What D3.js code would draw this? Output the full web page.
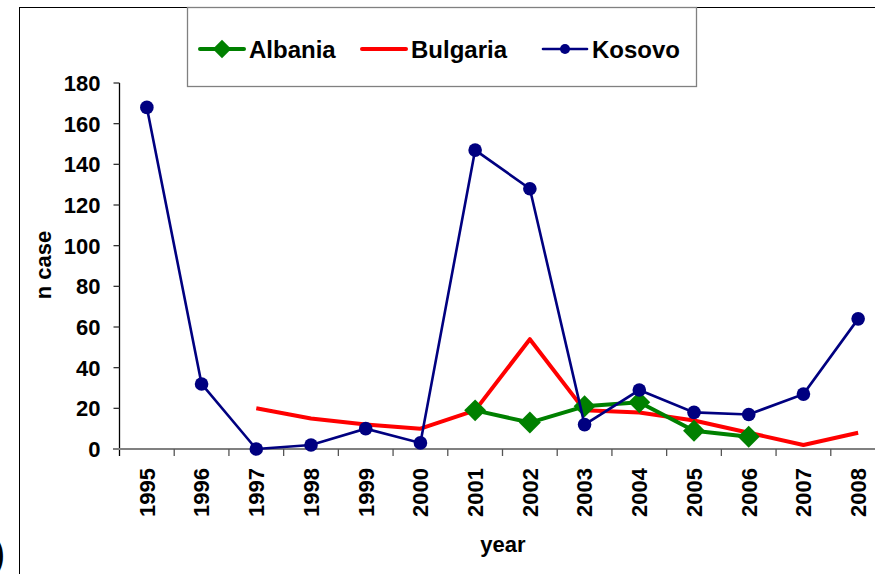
<!DOCTYPE html>
<html>
<head>
<meta charset="utf-8">
<script src="https://cdn.jsdelivr.net/npm/d3@7"></script>
<style>
  body { margin: 0; background: #fff; }
  svg { display: block; font-family: "Liberation Sans", Arial, sans-serif; font-weight: bold; }
</style>
</head>
<body>
<div id="chart"></div>
<script>
// data
var years = ["1995","1996","1997","1998","1999","2000","2001","2002","2003","2004","2005","2006","2007","2008"];
var albania  = [null, null, null, null, null, null, 19, 13, 21, 23, 9, 6, null, null];
var bulgaria = [null, null, 20, 15, 12, 10, 19, 54, 19, 18, 14, 8, 2, 8];
var kosovo   = [168, 32, 0, 2, 10, 3, 147, 128, 12, 29, 18, 17, 27, 64];
var yTicks = [0, 20, 40, 60, 80, 100, 120, 140, 160, 180];

var W = 875, H = 574;
var svg = d3.select("#chart").append("svg").attr("width", W).attr("height", H);

// outer frame (runs off the right / bottom of the crop)
svg.append("rect")
  .attr("x", 19.5).attr("y", 7.5).attr("width", 900).attr("height", 600)
  .attr("fill", "none").attr("stroke", "#000").attr("stroke-width", 1);

// bit of a panel label cut off at the left
svg.append("text")
  .attr("x", -9).attr("y", 568)
  .style("font-size", "44px").style("font-weight", "normal")
  .text(")");

var x = d3.scaleBand().domain(years).range([119.5, 885.5]);
var y = d3.scaleLinear().domain([0, 180]).range([449, 83]);

// y axis
var yAxis = svg.append("g").attr("transform", "translate(119.5,0)");
yAxis.append("line").attr("y1", 83).attr("y2", 456).attr("stroke", "#000").attr("stroke-width", 1.3);
yAxis.selectAll(".yt").data(yTicks).enter().append("line")
  .attr("x1", -6).attr("x2", 0)
  .attr("y1", function(d){ return y(d); }).attr("y2", function(d){ return y(d); })
  .attr("stroke", "#333").attr("stroke-width", 1.3);
yAxis.selectAll(".yl").data(yTicks).enter().append("text")
  .attr("x", -19).attr("y", function(d){ return y(d); })
  .attr("dy", "0.36em").attr("text-anchor", "end")
  .style("font-size", "22px")
  .text(function(d){ return d; });

// x axis
svg.append("line")
  .attr("x1", 113).attr("x2", W).attr("y1", 449).attr("y2", 449)
  .attr("stroke", "#808080").attr("stroke-width", 2);
svg.selectAll(".xt").data(years.slice(1)).enter().append("line")
  .attr("x1", function(d){ return x(d); }).attr("x2", function(d){ return x(d); })
  .attr("y1", 449).attr("y2", 456)
  .attr("stroke", "#555").attr("stroke-width", 1.3);
svg.selectAll(".xl").data(years).enter().append("text")
  .attr("transform", function(d){ return "translate(" + (x(d) + x.bandwidth()/2) + ",468) rotate(-90)"; })
  .attr("dy", "0.36em").attr("text-anchor", "end")
  .style("font-size", "22px")
  .text(function(d){ return d; });

// axis titles
svg.append("text")
  .attr("transform", "translate(43,265) rotate(-90)")
  .attr("dy", "0.36em").attr("text-anchor", "middle")
  .style("font-size", "22px").text("n case");
svg.append("text")
  .attr("x", 503).attr("y", 552).attr("text-anchor", "middle")
  .style("font-size", "22px").text("year");

var cx = function(i){ return x(years[i]) + x.bandwidth()/2; };
var line = d3.line()
  .defined(function(d){ return d != null; })
  .x(function(d, i){ return cx(i); })
  .y(function(d){ return y(d); });

var diamond = d3.symbol().type(d3.symbolSquare).size(240);

// Bulgaria
svg.append("path").datum(bulgaria).attr("d", line)
  .attr("fill", "none").attr("stroke", "#ff0000").attr("stroke-width", 4).attr("stroke-linejoin", "round");

// Albania
svg.append("path").datum(albania).attr("d", line)
  .attr("fill", "none").attr("stroke", "#008000").attr("stroke-width", 4).attr("stroke-linejoin", "round");
svg.selectAll(".alb").data(albania.map(function(d, i){ return {v: d, i: i}; }).filter(function(d){ return d.v != null; }))
  .enter().append("path")
  .attr("d", diamond)
  .attr("transform", function(d){ return "translate(" + cx(d.i) + "," + y(d.v) + ") rotate(45)"; })
  .attr("fill", "#008000");

// Kosovo
svg.append("path").datum(kosovo).attr("d", line)
  .attr("fill", "none").attr("stroke", "#000080").attr("stroke-width", 2.6);
svg.selectAll(".kos").data(kosovo).enter().append("circle")
  .attr("cx", function(d, i){ return cx(i); })
  .attr("cy", function(d){ return y(d); })
  .attr("r", 6.8).attr("fill", "#000080");

// legend
var lg = svg.append("g");
lg.append("rect")
  .attr("x", 187.5).attr("y", 7.5).attr("width", 509).attr("height", 79)
  .attr("fill", "#fff").attr("stroke", "#808080").attr("stroke-width", 1.3);
var legendItems = [
  {name: "Albania",  color: "#008000", x0: 200, marker: "diamond", w: 4},
  {name: "Bulgaria", color: "#ff0000", x0: 362, marker: null, w: 4},
  {name: "Kosovo",   color: "#000080", x0: 543, marker: "circle", w: 2.6}
];
legendItems.forEach(function(it){
  lg.append("line")
    .attr("x1", it.x0).attr("x2", it.x0 + 44).attr("y1", 49).attr("y2", 49)
    .attr("stroke", it.color).attr("stroke-width", it.w).attr("stroke-linecap", "round");
  if (it.marker == "diamond") {
    lg.append("path").attr("d", d3.symbol().type(d3.symbolSquare).size(170))
      .attr("transform", "translate(" + (it.x0 + 22) + ",49) rotate(45)")
      .attr("fill", it.color);
  } else if (it.marker == "circle") {
    lg.append("circle").attr("cx", it.x0 + 22).attr("cy", 49).attr("r", 5)
      .attr("fill", it.color);
  }
  lg.append("text")
    .attr("x", it.x0 + 49).attr("y", 49).attr("dy", "0.36em")
    .style("font-size", "24px").text(it.name);
});
</script>
</body>
</html>
